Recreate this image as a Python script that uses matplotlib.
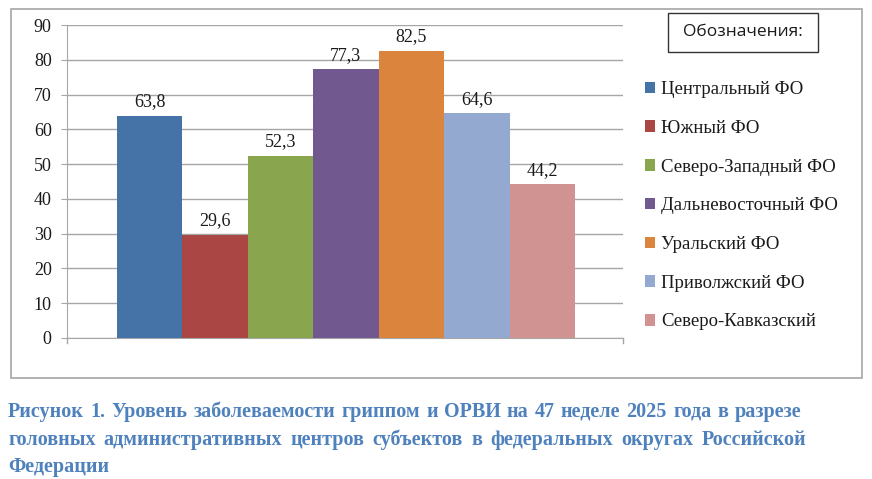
import matplotlib
matplotlib.use("Agg")
import matplotlib.pyplot as plt
from matplotlib.patches import Rectangle

districts = ["Центральный ФО", "Южный ФО", "Северо-Западный ФО", "Дальневосточный ФО",
             "Уральский ФО", "Приволжский ФО", "Северо-Кавказский"]
values = [63.8, 29.6, 52.3, 77.3, 82.5, 64.6, 44.2]
colors = ["#4572A7", "#AA4643", "#89A54E", "#71588F", "#DB843D", "#93A9CF", "#D19392"]
yticks = [0, 10, 20, 30, 40, 50, 60, 70, 80, 90]
legend_title = "Обозначения:"
caption_lines = [
    "Рисунок 1. Уровень заболеваемости гриппом и ОРВИ на 47 неделе 2025 года в разрезе",
    "головных административных  центров  субъектов в федеральных  округах Российской",
    "Федерации",
]

W, H = 872, 479
fig = plt.figure(figsize=(W / 100, H / 100), dpi=100)
serif = ["Liberation Serif", "DejaVu Serif"]
txt = "#1a1a1a"

# outer chart border
fig.patches.append(Rectangle((11 / W, 1 - 378 / H), (862 - 11) / W, (378 - 8.5) / H,
                             transform=fig.transFigure, fill=False, edgecolor="#A6A6A6",
                             linewidth=1.2))

ax = fig.add_axes([67 / W, 1 - 338 / H, (623 - 67) / W, (338 - 25) / H])
bars = []
for i, (v, c, lab) in enumerate(zip(values, colors, districts)):
    b = ax.bar(i, v, width=1.0, color=c, label=lab, zorder=3)
    bars.append(b)
    ax.bar_label(b, labels=[f"{v:.1f}".replace(".", ",")], padding=4,
                 fontsize=13, family=serif, color=txt)

ax.set_xlim(-0.5 - 50 / 65.7, 6.5 + 48 / 65.7)
ax.set_ylim(0, 90)
ax.set_yticks(yticks)
ax.set_yticklabels([str(t) for t in yticks], fontsize=13, family=serif, color=txt)
ax.set_xticks([])
ax.yaxis.grid(True, color="#A6A6A6", linewidth=1.0, zorder=0)
ax.set_axisbelow(True)
for s in ["top", "right"]:
    ax.spines[s].set_visible(False)
ax.spines["left"].set_color("#A6A6A6")
ax.spines["bottom"].set_color("#A6A6A6")
ax.tick_params(axis="y", length=4, color="#A6A6A6", pad=7)

# small ticks at ends of x-axis
ax.plot([1, 1], [0, -0.015], transform=ax.transAxes, color="#A6A6A6", lw=1.0, clip_on=False)
ax.plot([0, 0], [0, -0.015], transform=ax.transAxes, color="#A6A6A6", lw=1.0, clip_on=False)

# legend title box
fig.patches.append(Rectangle((668 / W, 1 - 52 / H), (818 - 668) / W, (52 - 13) / H,
                             transform=fig.transFigure, facecolor="white",
                             edgecolor="#333333", linewidth=1.0))
fig.text(743 / W, 1 - 32.5 / H, legend_title, ha="center", va="center", fontsize=12.5,
         family=["Open Sans", "DejaVu Sans"], color=txt)

handles = [b.patches[0] for b in bars]
leg = fig.legend(handles, districts, loc="upper left", bbox_to_anchor=(645 / W, 1 - 81 / H),
                 frameon=False, prop={"family": serif, "size": 13.5}, handlelength=0.55,
                 handleheight=0.55, handletextpad=0.3, labelspacing=1.16, borderaxespad=0,
                 borderpad=0)
for t in leg.get_texts():
    t.set_color(txt)

# justified caption
cap_color = "#4F81BD"
fig.canvas.draw()
renderer = fig.canvas.get_renderer()
x0 = 8 / W
x1s = [801 / W, 806 / W, None]
baselines = [417, 445, 472]
for line, yy, x1 in zip(caption_lines, baselines, x1s):
    words = line.split()
    texts = []
    for w in words:
        t = fig.text(0, 1 - yy / H, w, fontsize=14.5, family=serif, weight="bold",
                     color=cap_color, va="baseline", ha="left")
        texts.append(t)
    widths = [t.get_window_extent(renderer).width / W for t in texts]
    if x1 is not None and len(words) > 1:
        gap = (x1 - x0 - sum(widths)) / (len(words) - 1)
    else:
        gap = 4 / W
    pos = x0
    for t, w in zip(texts, widths):
        t.set_x(pos)
        pos += w + gap

fig.savefig("out.png", dpi=100)
